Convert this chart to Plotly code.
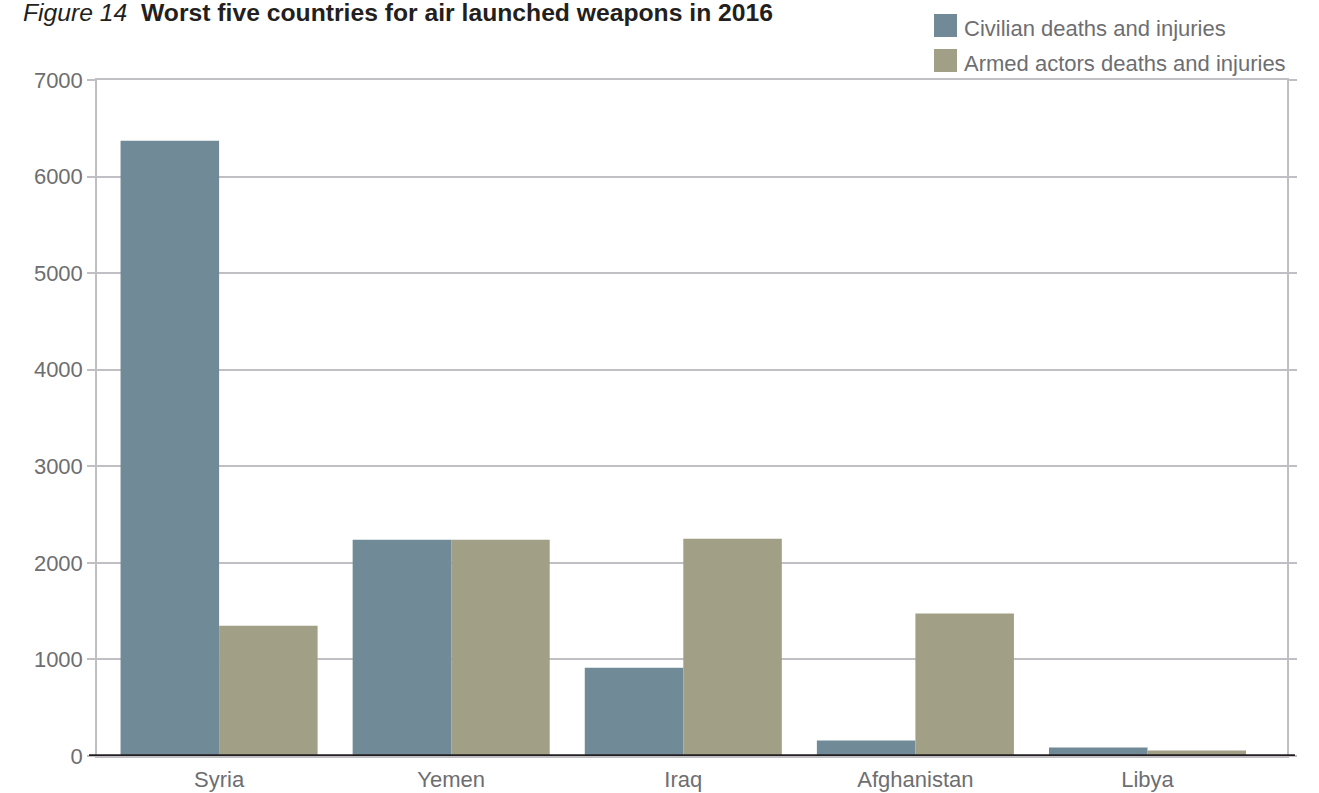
import plotly.graph_objects as go

# Data: deaths and injuries from air-launched weapons, 2016
countries = ["Syria", "Yemen", "Iraq", "Afghanistan", "Libya"]
civilian = [6370, 2240, 915, 160, 88]
armed_actors = [1350, 2240, 2250, 1475, 57]
y_ticks = [0, 1000, 2000, 3000, 4000, 5000, 6000, 7000]

CIV_COLOR = "#708b97"
ARMED_COLOR = "#a1a087"
GRID_COLOR = "#c0c0c4"
TEXT_GRAY = "#6d6e71"
DARK = "#231f20"
FONT = "Liberation Sans, Arial, sans-serif"

W, H = 1319, 793
ML, MR, MT, MB = 97, 32, 80, 37
PW, PH = W - ML - MR, H - MT - MB


def px_x(x):
    return (x - ML) / PW


def px_y(y):
    return (H - MB - y) / PH


fig = go.Figure()
fig.add_trace(go.Bar(x=countries, y=civilian, name="Civilian deaths and injuries",
                     marker=dict(color=CIV_COLOR, line=dict(width=0))))
fig.add_trace(go.Bar(x=countries, y=armed_actors, name="Armed actors deaths and injuries",
                     marker=dict(color=ARMED_COLOR, line=dict(width=0))))

fig.update_layout(
    width=W, height=H,
    margin=dict(l=ML, r=MR, t=MT, b=MB, pad=0, autoexpand=False),
    paper_bgcolor="white", plot_bgcolor="white",
    barmode="group", bargap=0.151, bargroupgap=0,
    showlegend=False,
    font=dict(family=FONT, size=22, color=TEXT_GRAY),
    xaxis=dict(
        type="category", range=[-0.526, 4.601], automargin=False,
        showgrid=False, zeroline=False,
        showline=True, mirror=True, linecolor=GRID_COLOR, linewidth=1.5,
        ticks="", ticklabelstandoff=3, tickfont=dict(size=22, color=TEXT_GRAY),
    ),
    yaxis=dict(
        range=[0, 7000], tickvals=y_ticks, ticktext=[str(v) for v in y_ticks],
        automargin=False,
        showgrid=True, gridcolor=GRID_COLOR, gridwidth=1.5,
        zeroline=False,
        showline=True, mirror="ticks", linecolor=GRID_COLOR, linewidth=1.5,
        ticks="outside", ticklen=8, tickwidth=1.5, tickcolor=GRID_COLOR,
        tickfont=dict(size=22, color=TEXT_GRAY),
    ),
)

# Dark baseline at zero, extending slightly past the frame
fig.add_shape(type="line", xref="paper", yref="y",
              x0=px_x(89), x1=px_x(1295), y0=0, y1=0,
              line=dict(color=DARK, width=3.5), layer="above")

# Legend drawn as swatches with labels
legend_items = [("Civilian deaths and injuries", CIV_COLOR, 14),
                ("Armed actors deaths and injuries", ARMED_COLOR, 49)]
for label, color, top in legend_items:
    fig.add_shape(type="rect", xref="paper", yref="paper",
                  x0=px_x(934), x1=px_x(957), y0=px_y(top + 23), y1=px_y(top),
                  fillcolor=color, line=dict(width=0))
    fig.add_annotation(text=label, xref="paper", yref="paper",
                       x=px_x(962), y=px_y(top + 14), xanchor="left", yanchor="middle",
                       showarrow=False, font=dict(family=FONT, size=22, color=TEXT_GRAY))

# Figure title
fig.add_annotation(
    text="<i>Figure 14</i>&nbsp;&nbsp;<b>Worst five countries for air launched weapons in 2016</b>",
    xref="paper", yref="paper", x=px_x(21), y=px_y(-3), xanchor="left", yanchor="top",
    showarrow=False, font=dict(family=FONT, size=24.7, color=DARK))

fig.write_html("out.html")
